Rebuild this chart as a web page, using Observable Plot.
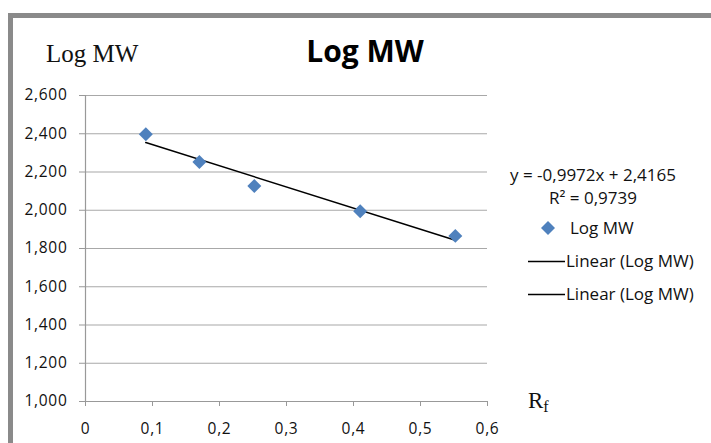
<!DOCTYPE html>
<html><head><meta charset="utf-8">
<script src="https://cdn.jsdelivr.net/npm/d3@7"></script>
<script src="https://cdn.jsdelivr.net/npm/@observablehq/plot@0.6"></script>
<style>
body{margin:0;background:#fff}
#c{position:relative;width:711px;height:443px;overflow:hidden;background:#fff}
#frame{position:absolute;left:8px;top:13px;width:720px;height:460px;border-left:5px solid #8a8a8a;border-top:5px solid #8a8a8a;pointer-events:none}
#c svg{position:absolute;left:0;top:0}
</style>
</head><body><div id="c"><div id="frame"></div></div>
<script>
const rf = [0.09, 0.17, 0.252, 0.41, 0.552];
const logMW = [2.398, 2.252, 2.127, 1.995, 1.866];
const xTicks = [0, 0.1, 0.2, 0.3, 0.4, 0.5, 0.6];
const yTicks = [1.0, 1.2, 1.4, 1.6, 1.8, 2.0, 2.2, 2.4, 2.6];
const titleText = "Log MW";
const yLabelText = "Log MW";
const xLabelMain = "R", xLabelSub = "f";
const equationText = "y = -0,9972x + 2,4165";
const r2Text = "R² = 0,9739";
const legendLabels = ["Log MW", "Linear (Log MW)", "Linear (Log MW)"];

const data = rf.map((x, i) => ({x, y: logMW[i]}));
const fmtY = d => d.toFixed(3).replace(".", ",");
const fmtX = d => d === 0 ? "0" : d.toFixed(1).replace(".", ",");

const plot = Plot.plot({
  width: 711, height: 443,
  marginLeft: 85, marginRight: 224, marginTop: 95, marginBottom: 42,
  style: {fontFamily: "'Open Sans', sans-serif", fontSize: "15.5px", color: "#111", background: "transparent", letterSpacing: "0.7px"},
  x: {domain: [0, 0.6]},
  y: {domain: [1, 2.6]},
  marks: [
    Plot.gridY(yTicks, {stroke: "#a8a8a8", strokeOpacity: 1, strokeWidth: 1.2}),
    Plot.axisY(yTicks, {tickSize: 6, tickPadding: 12, tickFormat: fmtY, stroke: "#999", fill: "#111", label: null}),
    Plot.axisX(xTicks, {tickSize: 5, tickPadding: 16, tickFormat: fmtX, stroke: "#999", fill: "#111", label: null}),
    Plot.ruleX([0], {stroke: "#999", strokeWidth: 1.2}),
    Plot.ruleY([1], {stroke: "#999", strokeWidth: 1.2}),
    Plot.linearRegressionY(data, {x: "x", y: "y", ci: 0, stroke: "#000", strokeWidth: 1.5}),
    Plot.dot(data, {x: "x", y: "y", symbol: "diamond2", fill: "#4f81bd", stroke: "none", r: 6.3})
  ]
});
document.getElementById("c").prepend(plot);

const svg = d3.select(plot);
const g = svg.append("g").style("letter-spacing", "0").attr("text-anchor", "start");
g.append("text").attr("x", 365).attr("y", 62).attr("text-anchor", "middle")
  .attr("font-family", "'Open Sans', sans-serif").attr("font-weight", "bold").attr("font-size", 30)
  .attr("fill", "#000").text(titleText);
g.append("text").attr("x", 46).attr("y", 62).attr("text-anchor", "start")
  .attr("font-family", "'Liberation Serif', serif").attr("font-size", 25)
  .attr("fill", "#111").text(yLabelText);
const rl = g.append("text").attr("x", 528).attr("y", 408).attr("text-anchor", "start")
  .attr("font-family", "'Liberation Serif', serif").attr("font-size", 23).attr("fill", "#111");
rl.append("tspan").text(xLabelMain);
rl.append("tspan").attr("font-size", 16).attr("dy", 4).text(xLabelSub);

const lf = {"font-family": "'Open Sans', sans-serif", "font-size": 17, "fill": "#111"};
function t(x, y, s, anchor) {
  const e = g.append("text").attr("x", x).attr("y", y).attr("text-anchor", anchor || "start").text(s);
  for (const k in lf) e.attr(k, lf[k]);
  return e;
}
t(593, 181, equationText, "middle");
t(593, 204, r2Text, "middle");
t(570, 234, legendLabels[0]);
t(566, 267, legendLabels[1]);
t(566, 300, legendLabels[2]);
g.append("path").attr("d", d3.symbol(d3.symbolDiamond2, Math.PI * 6.3 * 6.3)())
  .attr("transform", "translate(548,228)").attr("fill", "#4f81bd");
g.append("line").attr("x1", 528).attr("x2", 565).attr("y1", 261.5).attr("y2", 261.5).attr("stroke", "#000").attr("stroke-width", 1.3);
g.append("line").attr("x1", 528).attr("x2", 565).attr("y1", 294.5).attr("y2", 294.5).attr("stroke", "#000").attr("stroke-width", 1.3);
</script>
</body></html>
